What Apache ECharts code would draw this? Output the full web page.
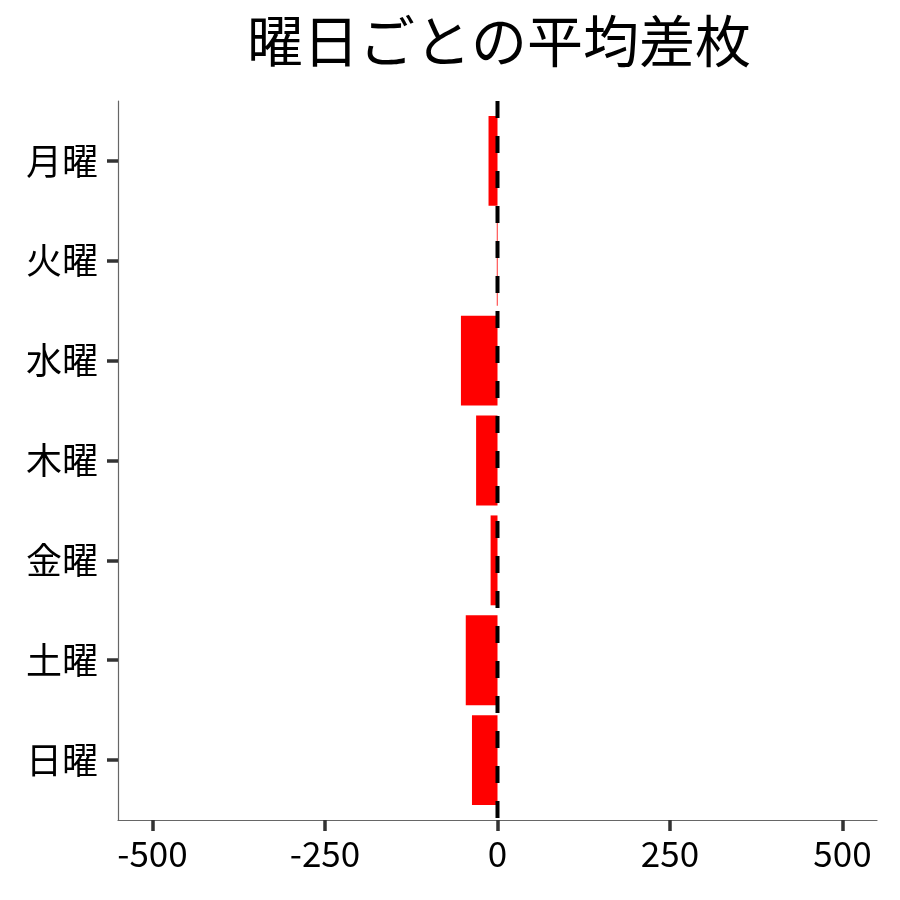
<!DOCTYPE html>
<html>
<head>
<meta charset="utf-8">
<script src="https://cdn.jsdelivr.net/npm/echarts@6/dist/echarts.min.js"></script>
<style>
html,body{margin:0;padding:0;background:#fff;}
#chart{width:900px;height:900px;}
</style>
</head>
<body>
<div id="chart"></div>
<script>
const titleText = '曜日ごとの平均差枚';
const categories = ['月曜', '火曜', '水曜', '木曜', '金曜', '土曜', '日曜'];
const avgDiff = [-13, -1, -53, -31, -10, -46, -37];
const xTicks = [-500, -250, 0, 250, 500];
const refLineValue = 0;

const FONT = '"Noto Sans CJK JP", "Noto Sans", sans-serif';
const catPositions = categories.map((c, i) => i + 1);
const barData = avgDiff.map((v, i) => [v, i + 1]);
const chart = echarts.init(document.getElementById('chart'));
chart.setOption({
  animation: false,
  backgroundColor: '#ffffff',
  title: {
    text: titleText,
    left: 494,
    textAlign: 'center',
    top: 8,
    textStyle: { fontFamily: FONT, fontSize: 56, fontWeight: 'normal', color: '#000' }
  },
  grid: { left: 118, right: 23, top: 101, bottom: 80, containLabel: false },
  xAxis: {
    type: 'value',
    min: -550,
    max: 550,
    axisLine: { show: true, onZero: false, lineStyle: { color: '#666', width: 1.2 } },
    axisTick: {
      show: true, length: 11, lineStyle: { color: '#333', width: 3.5 },
      customValues: xTicks
    },
    axisLabel: {
      customValues: xTicks,
      formatter: v => String(v),
      fontFamily: FONT, fontSize: 35, color: '#000', margin: 16
    },
    splitLine: { show: false }
  },
  yAxis: {
    type: 'value',
    min: 0.4,
    max: 7.6,
    inverse: true,
    axisLine: { show: true, onZero: false, lineStyle: { color: '#666', width: 1.2 } },
    axisTick: { show: true, length: 11, customValues: catPositions, lineStyle: { color: '#333', width: 3.5 } },
    axisLabel: {
      customValues: catPositions,
      formatter: v => categories[Math.round(v) - 1] || '',
      fontFamily: FONT, fontSize: 36, color: '#000', margin: 20
    },
    splitLine: { show: false }
  },
  series: [{
    type: 'custom',
    data: barData,
    encode: { x: 0, y: 1 },
    renderItem: function (params, api) {
      const v = api.value(0);
      const y = api.value(1);
      const p0 = api.coord([0, y]);
      const p1 = api.coord([v, y]);
      const h = Math.abs(api.size([0, 0.9])[1]);
      return {
        type: 'rect',
        shape: {
          x: Math.min(p0[0], p1[0]),
          y: p0[1] - h / 2,
          width: Math.max(Math.abs(p1[0] - p0[0]), 0.8),
          height: h
        },
        style: { fill: '#ff0000' }
      };
    },
    z: 2
  }, {
    type: 'line',
    data: [[refLineValue, 0.4], [refLineValue, 7.6]],
    symbol: 'none',
    lineStyle: { color: '#000', type: [17, 18], width: 4 },
    z: 3
  }]
});
</script>
</body>
</html>
